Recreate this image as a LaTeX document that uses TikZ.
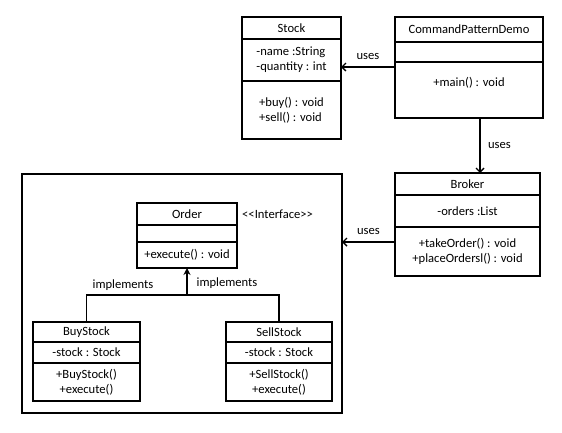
\documentclass[tikz,border=0pt]{standalone}
\usepackage{fontspec}
\setmainfont{Carlito}
\usetikzlibrary{positioning, arrows.meta}
\tikzstyle{arrow} = [
    line width=1.4pt,
    -{Straight Barb[length=4pt, width=8pt]},
    draw=black
]
\tikzstyle{part} = [rectangle, draw=black, line width=1.4pt, outer sep=0pt, inner sep=0pt, align=center]

\begin{document}
\begin{tikzpicture}[
    x=1pt, y=-1pt,
    node distance=0pt,
    font=\fontsize{12.6}{14.8}\selectfont,
    implArrow/.style={line width=1.4pt, -{Stealth[length=7pt, width=7pt]}},
    link/.style={line width=1.4pt},
    tag/.style={inner sep=1pt}
]
\useasboundingbox (0,0) rectangle (562,432);

% Stock class
\node[part, minimum width=99pt, minimum height=22pt] (stock) at (291.5,28) {Stock};
\node[part, minimum width=99pt, minimum height=42pt, below=of stock, align=left] (stockAttr) {-name :String\\-quantity : int};
\node[part, minimum width=99pt, minimum height=58pt, below=of stockAttr, align=left] (stockOps) {+buy() : void\\+sell() : void};

% CommandPatternDemo class
\node[part, minimum width=148pt, minimum height=25pt] (demo) at (469,29.5) {CommandPatternDemo};
\node[part, minimum width=148pt, minimum height=20pt, below=of demo] (demoAttr) {};
\node[part, minimum width=148pt, minimum height=56pt, below=of demoAttr, text depth=16pt] (demoOps) {+main() : void};

% Broker class
\node[part, minimum width=145pt, minimum height=22pt] (broker) at (467.5,184) {Broker};
\node[part, minimum width=145pt, minimum height=32pt, below=of broker] (brokerAttr) {-orders :List};
\node[part, minimum width=145pt, minimum height=49pt, below=of brokerAttr] (brokerOps) {+takeOrder() : void\\+placeOrdersl() : void};

% Command package frame
\node[part, minimum width=320pt, minimum height=239pt] (frame) at (182,293.5) {};

% Order interface
\node[part, minimum width=100pt, minimum height=22pt] (order) at (187,214) {Order};
\node[part, minimum width=100pt, minimum height=17pt, below=of order] (orderAttr) {};
\node[part, minimum width=100pt, minimum height=26pt, below=of orderAttr] (orderOps) {+execute() : void};
\node[tag, right=4pt of order] (iface) {<\kern0pt<Interface>\kern0pt>};

% Concrete orders
\node[part, minimum width=107pt, minimum height=20pt] (buy) at (86.5,332) {BuyStock};
\node[part, minimum width=107pt, minimum height=21pt, below=of buy] (buyAttr) {-stock : Stock};
\node[part, minimum width=107pt, minimum height=38pt, below=of buyAttr] (buyOps) {+BuyStock()\\+execute()};

\node[part, minimum width=106pt, minimum height=20pt] (sell) at (279,332) {SellStock};
\node[part, minimum width=106pt, minimum height=21pt, below=of sell] (sellAttr) {-stock : Stock};
\node[part, minimum width=106pt, minimum height=38pt, below=of sellAttr] (sellOps) {+SellStock()\\+execute()};

% Arrows
\coordinate (demoOut) at ([yshift=-5pt]demoOps.north west);
\coordinate (demoDown) at ([xshift=11pt]demoOps.south);
\coordinate (brokerOut) at ([yshift=9.5pt]brokerOps.west);
\draw[arrow] (demoOut) -- node[above=3pt] (usesStock) {uses} (stockAttr.east |- demoOut);
\draw[arrow] (demoDown) -- node[right=4pt] (usesBroker) {uses} (demoDown |- broker.north);
\draw[arrow] (brokerOut) -- node[above=3pt] (usesOrder) {uses} (frame.east |- brokerOut);

% Implements
\coordinate (fork) at (187,295);
\draw[link] (buy.north) |- (fork) -| (sell.north);
\draw[implArrow] (fork) -- (orderOps.south);
\node[tag] (implBuy) at (123,285) {implements};
\node[tag] (implSell) at (227,283) {implements};

\end{tikzpicture}
\end{document}
